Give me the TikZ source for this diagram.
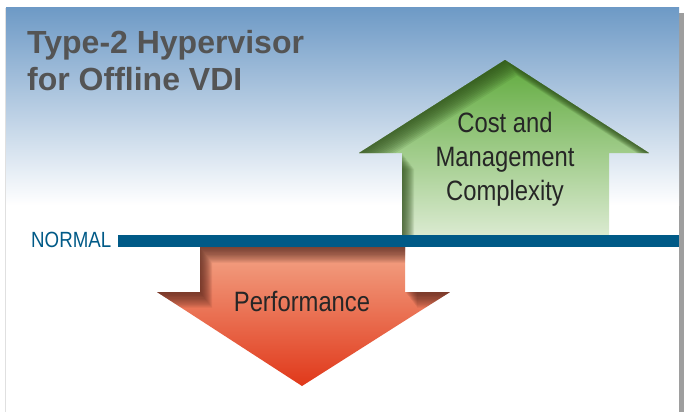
\documentclass[tikz,border=0pt]{standalone}
\usepackage{fontspec}
\setmainfont{Liberation Sans}
\newfontfamily\condfont[FakeStretch=0.85]{Liberation Sans}
\definecolor{skyblue}{HTML}{6E9AC6}
\definecolor{skymid}{HTML}{D6E1ED}
\definecolor{normalblue}{HTML}{005A87}
\definecolor{titlegray}{HTML}{545454}
\definecolor{leaftop}{HTML}{5FAA3C}
\definecolor{leafmid}{HTML}{A2CF87}
\definecolor{leafbottom}{HTML}{DAEAD0}
\definecolor{leafdark}{HTML}{2B4A17}
\definecolor{rusttop}{HTML}{F3A587}
\definecolor{rustmid}{HTML}{EC7650}
\definecolor{rustbottom}{HTML}{E0381A}
\definecolor{rustdark}{HTML}{55241A}
\def\costarrow{(505,60) -- (649,153) -- (609,153) -- (609,235) -- (402,235) -- (402,153) -- (359,153) -- cycle}
\def\perfarrow{(200,247) -- (405,247) -- (405,292) -- (450,292) -- (302,386) -- (157,292) -- (200,292) -- cycle}
\begin{document}
\begin{tikzpicture}[x=1pt,y=-1pt,
  arrowtext/.style={text=black!85,font=\condfont\fontsize{28}{34}\selectfont,align=center},
  inshadow/.style={opacity=0.1,even odd rule,shift={(#1,1.3*#1)}}]
\useasboundingbox (0,0) rectangle (684,412);
% panel and its shadow
\fill[white] (0,0) rectangle (684,412);
\fill[black!38] (679,13) rectangle (684,412);
\draw[black!12,line width=1pt] (5,8) -- (5,412);
\fill[white] (6,8) rectangle (679,412);
\shade[top color=skyblue,middle color=skymid,bottom color=white] (6,8) rectangle (679,205);
% up arrow
\begin{scope}
  \clip \costarrow;
  \shade[top color=leaftop,middle color=leafmid,bottom color=leafbottom] \costarrow;
  \foreach \i in {1,...,12}
    \fill[leafdark,inshadow=\i] (-100,-100) rectangle (800,500) \costarrow;
\end{scope}
% down arrow
\begin{scope}
  \clip \perfarrow;
  \shade[top color=rusttop,middle color=rustmid,bottom color=rustbottom] \perfarrow;
  \foreach \i in {1,...,12}
    \fill[rustdark,inshadow=\i] (-100,-100) rectangle (800,500) \perfarrow;
\end{scope}
% normal line
\fill[normalblue] (118,235) rectangle (679,247);
\node[anchor=base west,text=normalblue,inner sep=0pt,font=\condfont\fontsize{22}{26}\selectfont] (normal) at (31,247.5) {NORMAL};
% texts
\node[anchor=base west,inner sep=0pt,align=left,text=titlegray,font=\bfseries\fontsize{32}{37.5}\selectfont] (title) at (27,90.5) {Type-2 Hypervisor\\for Offline VDI};
\node[arrowtext,anchor=base] (cost) at (505,200) {Cost and\\Management\\Complexity};
\node[arrowtext,anchor=base] (perf) at (302,311.7) {Performance};
\end{tikzpicture}
\end{document}
